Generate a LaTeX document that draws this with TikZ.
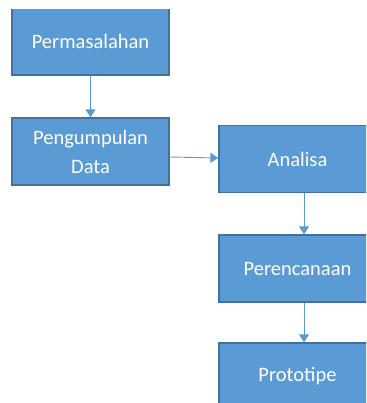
\documentclass[tikz,border=0pt]{standalone}
\usepackage{fontspec}
\setmainfont{Carlito}
\usetikzlibrary{arrows.meta}
\definecolor{boxfill}{HTML}{5B9BD5}
\definecolor{boxline}{HTML}{41719C}
\definecolor{arrowcol}{HTML}{5B9BD5}
\tikzset{
  stepbox/.style={rectangle, fill=boxfill, draw=boxline, line width=1.3pt,
    minimum width=157pt, minimum height=67pt, inner sep=0pt,
    text=white, font=\fontsize{20.5}{29}\selectfont, align=center},
  flow/.style={draw=arrowcol, line width=0.9pt,
    -{Triangle[length=8pt,width=10pt]}}
}
\begin{document}
\begin{tikzpicture}[x=1pt,y=-1pt]
\useasboundingbox (0,0) rectangle (366,403);
\clip (0,10) rectangle (366,403);
\node[stepbox] (perm) at (90.5,41.5) {Permasalahan};
\node[stepbox] (peng) at (90.5,151.5) {Pengumpulan\\Data};
\node[stepbox] (anal) at (297.5,159) {Analisa};
\node[stepbox] (pere) at (297.5,268.5) {Perencanaan};
\node[stepbox] (prot) at (297.5,376.5) {Prototipe};
\draw[flow] (perm.south) -- (peng.north);
\draw[flow] (peng.east |- 0,157) -- (anal.west |- 0,158);
\draw[flow] (anal.south -| 304,0) -- (pere.north -| 304,0);
\draw[flow] (pere.south -| 304,0) -- (prot.north -| 304,0);
\end{tikzpicture}
\end{document}
